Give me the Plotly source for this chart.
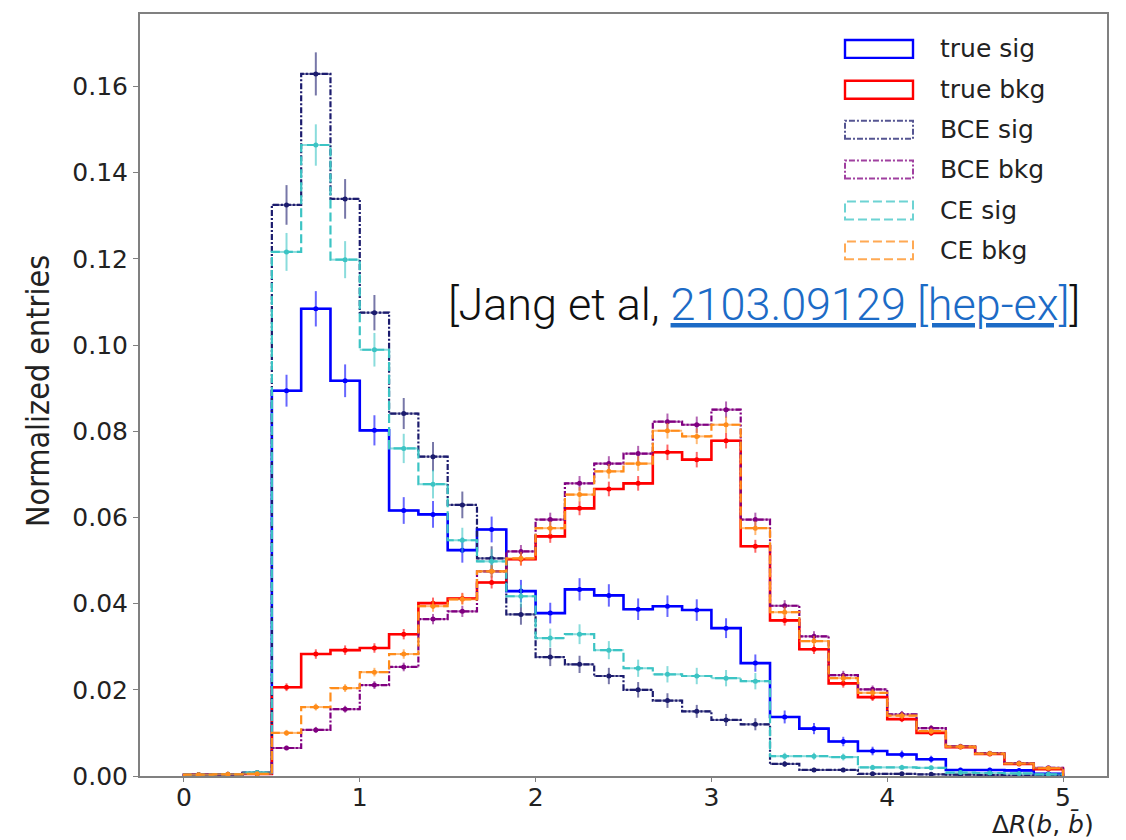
import numpy as np
import plotly.graph_objects as go

# ---------------- data ----------------
bin_edges = list(np.linspace(0.0, 5.0, 31))
bin_centers = [(a + b) / 2 for a, b in zip(bin_edges[:-1], bin_edges[1:])]
half_width = (bin_edges[1] - bin_edges[0]) / 2

true_sig = [0.0003, 0.0003, 0.0006, 0.0894, 0.1084, 0.0917, 0.0802, 0.0616, 0.0607, 0.0524,
            0.0572, 0.0429, 0.0378, 0.0433, 0.0419, 0.0387, 0.0394, 0.0385, 0.0343, 0.0262,
            0.0137, 0.0110, 0.0080, 0.0058, 0.0050, 0.0039, 0.0014, 0.0014, 0.0013, 0.0005]
true_sig_err = [0.0002, 0.0002, 0.0003, 0.0037, 0.0041, 0.0038, 0.0035, 0.0031, 0.0031, 0.0029,
                0.0030, 0.0026, 0.0024, 0.0026, 0.0026, 0.0025, 0.0025, 0.0025, 0.0023, 0.0020,
                0.0015, 0.0013, 0.0011, 0.0010, 0.0009, 0.0008, 0.0005, 0.0005, 0.0005, 0.0003]

true_bkg = [0.0003, 0.0004, 0.0005, 0.0206, 0.0283, 0.0292, 0.0297, 0.0329, 0.0401, 0.0412,
            0.0449, 0.0503, 0.0556, 0.0621, 0.0666, 0.0679, 0.0751, 0.0734, 0.0778, 0.0533,
            0.0361, 0.0294, 0.0215, 0.0183, 0.0132, 0.0100, 0.0067, 0.0051, 0.0028, 0.0016]
true_bkg_err = [0.0001, 0.0001, 0.0001, 0.0009, 0.0011, 0.0011, 0.0011, 0.0012, 0.0013, 0.0013,
                0.0014, 0.0015, 0.0015, 0.0016, 0.0017, 0.0017, 0.0018, 0.0018, 0.0018, 0.0015,
                0.0012, 0.0011, 0.0010, 0.0009, 0.0007, 0.0007, 0.0005, 0.0005, 0.0003, 0.0003]

bce_sig = [0.0002, 0.0003, 0.0008, 0.1325, 0.1629, 0.1339, 0.1075, 0.0841, 0.0741, 0.0629,
           0.0505, 0.0375, 0.0276, 0.0259, 0.0232, 0.0200, 0.0175, 0.0150, 0.0130, 0.0120,
           0.0028, 0.0014, 0.0014, 0.0005, 0.0005, 0.0004, 0.0003, 0.0002, 0.0001, 0.0001]
bce_sig_err = [0.0002, 0.0002, 0.0004, 0.0046, 0.0050, 0.0046, 0.0041, 0.0036, 0.0034, 0.0031,
               0.0028, 0.0024, 0.0021, 0.0020, 0.0019, 0.0018, 0.0017, 0.0015, 0.0014, 0.0014,
               0.0007, 0.0005, 0.0005, 0.0003, 0.0003, 0.0003, 0.0002, 0.0002, 0.0001, 0.0001]

bce_bkg = [0.0003, 0.0004, 0.0005, 0.0065, 0.0107, 0.0155, 0.0211, 0.0253, 0.0364, 0.0382,
           0.0475, 0.0521, 0.0595, 0.0679, 0.0725, 0.0748, 0.0822, 0.0815, 0.0850, 0.0595,
           0.0395, 0.0324, 0.0234, 0.0201, 0.0143, 0.0111, 0.0069, 0.0053, 0.0030, 0.0019]
bce_bkg_err = [0.0001, 0.0001, 0.0001, 0.0005, 0.0007, 0.0008, 0.0009, 0.0010, 0.0012, 0.0013,
               0.0014, 0.0015, 0.0016, 0.0017, 0.0017, 0.0018, 0.0019, 0.0019, 0.0019, 0.0016,
               0.0013, 0.0012, 0.0010, 0.0009, 0.0008, 0.0007, 0.0005, 0.0005, 0.0004, 0.0003]

ce_sig = [0.0003, 0.0004, 0.0008, 0.1216, 0.1464, 0.1198, 0.0989, 0.0760, 0.0677, 0.0547,
          0.0498, 0.0417, 0.0320, 0.0329, 0.0292, 0.0250, 0.0236, 0.0232, 0.0227, 0.0220,
          0.0046, 0.0046, 0.0044, 0.0020, 0.0020, 0.0019, 0.0008, 0.0007, 0.0006, 0.0004]
ce_sig_err = [0.0002, 0.0003, 0.0004, 0.0044, 0.0048, 0.0043, 0.0039, 0.0034, 0.0033, 0.0029,
              0.0028, 0.0026, 0.0022, 0.0023, 0.0021, 0.0020, 0.0019, 0.0019, 0.0019, 0.0019,
              0.0008, 0.0008, 0.0008, 0.0006, 0.0006, 0.0005, 0.0004, 0.0003, 0.0003, 0.0003]

ce_bkg = [0.0003, 0.0004, 0.0005, 0.0100, 0.0160, 0.0204, 0.0241, 0.0283, 0.0394, 0.0410,
          0.0475, 0.0505, 0.0575, 0.0653, 0.0707, 0.0725, 0.0801, 0.0788, 0.0815, 0.0575,
          0.0380, 0.0313, 0.0227, 0.0193, 0.0140, 0.0104, 0.0068, 0.0052, 0.0029, 0.0018]
ce_bkg_err = [0.0001, 0.0001, 0.0001, 0.0007, 0.0008, 0.0009, 0.0010, 0.0011, 0.0013, 0.0013,
              0.0014, 0.0015, 0.0016, 0.0017, 0.0017, 0.0017, 0.0018, 0.0018, 0.0019, 0.0016,
              0.0013, 0.0012, 0.0010, 0.0009, 0.0008, 0.0007, 0.0005, 0.0005, 0.0003, 0.0003]

labels = ["true sig", "true bkg", "BCE sig", "BCE bkg", "CE sig", "CE bkg"]
x_ticks = [0, 1, 2, 3, 4, 5]
y_ticks = [0.00, 0.02, 0.04, 0.06, 0.08, 0.10, 0.12, 0.14, 0.16]

# ---------------- style ----------------
series = [
    (true_sig, true_sig_err, "#0000ff", "solid", 2.6),
    (true_bkg, true_bkg_err, "#ff0000", "solid", 2.6),
    (bce_sig, bce_sig_err, "#1c1c6e", "6px,2px,2px,2px", 2.2),
    (bce_bkg, bce_bkg_err, "#800080", "6px,2px,2px,2px", 2.2),
    (ce_sig, ce_sig_err, "#3cc4c4", "9px,4px", 2.2),
    (ce_bkg, ce_bkg_err, "#ff8c1a", "9px,4px", 2.2),
]

W, H = 1126, 840
L, R, T, B = 140, 19, 12, 64
plot_w = W - L - R
plot_h = H - T - B


def px_x(px):
    return (px - L) / plot_w


def px_y(py):
    return (H - B - py) / plot_h


def rgba(hex_color, a):
    h = hex_color.lstrip("#")
    return "rgba(%d,%d,%d,%.2f)" % (int(h[0:2], 16), int(h[2:4], 16), int(h[4:6], 16), a)


fig = go.Figure()

for (vals, errs, color, dash, lw), name in zip(series, labels):
    xs = [bin_edges[0]] + bin_edges[:-1] + [bin_edges[-1], bin_edges[-1]]
    ys = [0.0] + vals + [vals[-1], 0.0]
    fig.add_trace(go.Scatter(
        x=xs, y=ys, mode="lines", line=dict(color=color, width=lw, dash=dash, shape="hv"),
        name=name, showlegend=False, hoverinfo="skip"))
    fig.add_trace(go.Scatter(
        x=bin_centers, y=vals, mode="markers",
        marker=dict(color=color, size=5),
        error_y=dict(type="data", array=errs, color=rgba(color, 0.6), thickness=2, width=0),
        error_x=dict(type="constant", value=half_width, color=rgba(color, 0.6), thickness=2, width=0),
        name=name, showlegend=False))

# ---------------- manual legend (matplotlib style patches) ----------------
row_y = [47, 88, 128, 168, 209, 249]
shapes = []
annotations = []
for (vals, errs, color, dash, lw), name, yc in zip(series, labels, row_y):
    shapes.append(dict(type="rect", xref="paper", yref="paper",
                       x0=px_x(845), x1=px_x(913), y0=px_y(yc + 9), y1=px_y(yc - 9),
                       line=dict(color=color if dash == "solid" else rgba(color, 0.75),
                                 width=2.4 if dash == "solid" else 2, dash=dash),
                       fillcolor="rgba(0,0,0,0)"))
    annotations.append(dict(xref="paper", yref="paper", x=px_x(938), y=px_y(yc),
                            xanchor="left", yanchor="middle", showarrow=False, text=name,
                            font=dict(family="DejaVu Sans", size=25, color="#222222")))

# citation
annotations.append(dict(
    xref="paper", yref="paper", x=px_x(446), y=px_y(303), xanchor="left", yanchor="middle",
    showarrow=False,
    text="[Jang et al, <span style='color:#1c6bc6'><u>2103.09129 [hep-ex]</u></span>]",
    font=dict(family="Roboto", size=45, color="#111111", weight=300)))

# axis titles
annotations.append(dict(
    xref="paper", yref="paper", x=px_x(1096), y=px_y(824), xanchor="right", yanchor="middle",
    showarrow=False, text="Δ<i>R</i>(<i>b</i>, <i>b̄</i>)",
    font=dict(family="DejaVu Sans", size=25, color="#222222")))
annotations.append(dict(
    xref="paper", yref="paper", x=px_x(38), y=px_y(390), xanchor="center", yanchor="middle",
    showarrow=False, textangle=-90, text="Normalized entries",
    font=dict(family="Liberation Sans Narrow, DejaVu Sans Condensed, Noto Sans, sans-serif",
              size=32, color="#222222")))

fig.update_layout(
    width=W, height=H,
    margin=dict(l=L, r=R, t=T, b=B, pad=0),
    paper_bgcolor="white", plot_bgcolor="white",
    shapes=shapes, annotations=annotations,
    showlegend=False,
)
fig.update_xaxes(range=[-0.25, 5.25], tickvals=x_ticks, ticktext=[str(v) for v in x_ticks],
                 showgrid=False, zeroline=False, showline=True, mirror=True,
                 linecolor="#808080", linewidth=2, ticks="outside", ticklen=4, tickcolor="#808080",
                 ticklabelstandoff=-6,
                 tickfont=dict(family="DejaVu Sans", size=25, color="#222222"))
fig.update_yaxes(range=[0, 0.1768], tickvals=y_ticks, ticktext=["%.2f" % v for v in y_ticks],
                 showgrid=False, zeroline=False, showline=True, mirror=True,
                 linecolor="#808080", linewidth=2, ticks="outside", ticklen=5, tickcolor="#808080",
                 tickfont=dict(family="DejaVu Sans", size=25, color="#222222"))

fig.write_html("out.html")
